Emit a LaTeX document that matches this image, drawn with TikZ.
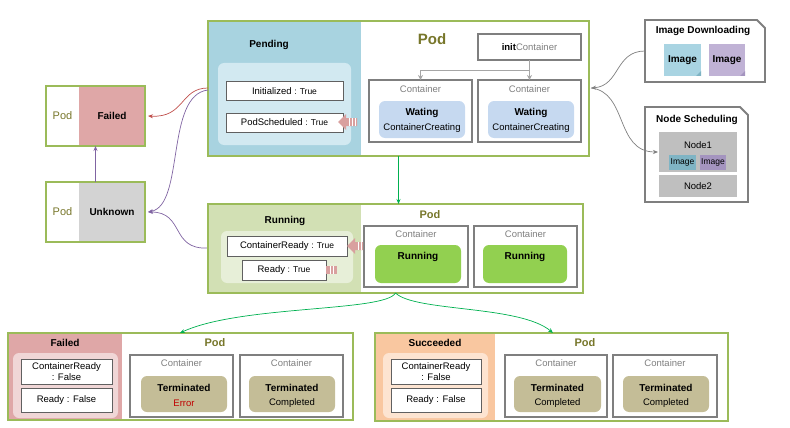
\documentclass[tikz,border=0pt]{standalone}
\usepackage{fontspec}
\setmainfont{Liberation Sans}
\usetikzlibrary{arrows.meta,calc}
\definecolor{podgreen}{HTML}{9BBB59}
\definecolor{podtext}{HTML}{77762A}
\definecolor{pendblue}{HTML}{A8D3E0}
\definecolor{pendlight}{HTML}{D2E9F1}
\definecolor{rungreen}{HTML}{D2E0B4}
\definecolor{runlight}{HTML}{E7EFD8}
\definecolor{failpink}{HTML}{DFA7A7}
\definecolor{faillight}{HTML}{F0D6D6}
\definecolor{succorange}{HTML}{F9C7A0}
\definecolor{succlight}{HTML}{FDE4D1}
\definecolor{contgray}{HTML}{7F7F7F}
\definecolor{waitblue}{HTML}{C6D9F0}
\definecolor{runfill}{HTML}{92D050}
\definecolor{termfill}{HTML}{C4BD97}
\definecolor{errred}{HTML}{C00000}
\definecolor{imgblue}{HTML}{A9D4E2}
\definecolor{imgpurple}{HTML}{C0B2D5}
\definecolor{imgblue2}{HTML}{7FB4C4}
\definecolor{imgpurple2}{HTML}{A494BF}
\definecolor{nodegray}{HTML}{BFBFBF}
\definecolor{unkgray}{HTML}{D3D3D3}
\definecolor{arrred}{HTML}{C0504D}
\definecolor{arrpurple}{HTML}{8064A2}
\definecolor{arrgreen}{HTML}{00B050}
\definecolor{arrgray}{HTML}{A6A6A6}
\definecolor{pinkarr}{HTML}{D9A09F}
\newcommand\bx[6]{\node[#1, inner sep=0pt, outer sep=0pt, minimum width={#4-#2}, minimum height={#5-#3}] (#6) at ({(#2+#4)/2},{(#3+#5)/2}) {};}
\begin{document}
\begin{tikzpicture}[x=1pt,y=-1pt,
  lbl/.style={inner sep=0pt, font=\fontsize{9.5}{11}\selectfont},
  hdr/.style={inner sep=0pt, font=\fontsize{10}{12}\selectfont\bfseries},
  podlbl/.style={inner sep=0pt, text=podtext, font=\fontsize{11}{13}\selectfont\bfseries},
  podborder/.style={draw=podgreen, line width=2.3pt},
  condbox/.style={draw=gray!75!black, fill=white, line width=1pt},
  contbox/.style={draw=contgray, line width=2pt},
  innerround/.style={rounded corners=6pt},
  conn/.style={-{Stealth[length=5pt,width=4pt]}, line width=0.7pt},
  cutbox/.style={draw=contgray, line width=1.8pt, fill=white},
]
\useasboundingbox (0,0) rectangle (790,428);

% ================= Pending pod =================
\fill[pendblue] (208,21) rectangle (361,156);
\bx{podborder}{208}{21}{589}{156}{pending}
\fill[pendlight,innerround] (218,63) rectangle (351,145);
\bx{condbox}{226}{82}{343}{100}{pinit}
\bx{condbox}{226}{113}{343}{132}{psched}
\node[lbl] at (pinit) {Initialized {\fontsize{8.5}{10}\selectfont: True}};
\node[lbl] at (psched) {PodScheduled {\fontsize{8.5}{10}\selectfont: True}};
\node[hdr] at (269,45) {Pending};
\node[podlbl, font=\fontsize{15}{17}\selectfont\bfseries] at (432,39) {Pod};
\bx{contbox, fill=white}{478}{34}{581}{60}{initc}
\node[lbl] at (initc) {\textbf{init}\textcolor{contgray}{Container}};
\bx{contbox}{369}{80}{472}{142}{pc1}
\bx{contbox}{478}{80}{581}{142}{pc2}
\fill[waitblue,innerround] (379,101) rectangle (465,138);
\fill[waitblue,innerround] (488,101) rectangle (574,138);
\node[lbl,text=contgray] at (420.5,89) {Container};
\node[lbl,text=contgray] at (529.5,89) {Container};
\node[hdr] at (422,113) {Wating};
\node[lbl] at (422,128) {ContainerCreating};
\node[hdr] at (531,113) {Wating};
\node[lbl] at (531,128) {ContainerCreating};
\coordinate (splitc) at (529.5,71);
\draw[arrgray, line width=1pt] (initc.south) -- (splitc);
\draw[arrgray, line width=1pt, -{Stealth[length=5pt,width=5pt]}] (splitc) -| (pc1.north);
\draw[arrgray, line width=1pt, -{Stealth[length=5pt,width=5pt]}] (splitc) -- (pc2.north);
% pink arrow
\fill[pinkarr] (338,122) -- (346,114) -- (346,118) -- (357,118) -- (357,126) -- (346,126) -- (346,130) -- cycle;
\foreach \xx in {349,352,355} \draw[white, line width=0.6pt] (\xx,118) -- (\xx,126);

% ================= Image Downloading =================
\draw[cutbox] (645,20) -- (757,20) -- (765,28) -- (765,82) -- (645,82) -- cycle;
\node[inner sep=0pt, outer sep=0pt, minimum width=120pt, minimum height=62pt] (imgdl) at (705,51) {};
\node[hdr] at (703,31) {Image Downloading};
\fill[imgblue] (664,44) rectangle (701,76);
\fill[imgblue2] (701,71) -- (696,76) -- (701,76) -- cycle;
\fill[imgpurple] (709,44) rectangle (745,76);
\fill[imgpurple2] (745,71) -- (740,76) -- (745,76) -- cycle;
\node[hdr] at (682.5,60) {Image};
\node[hdr] at (727,60) {Image};

% ================= Node Scheduling =================
\draw[cutbox] (645,107) -- (740,107) -- (748,115) -- (748,202) -- (645,202) -- cycle;
\node[hdr] at (697,120) {Node Scheduling};
\bx{fill=nodegray}{659}{132}{737}{172}{node1}
\bx{fill=nodegray}{659}{175}{737}{197}{node2}
\node[lbl] at (698,145) {Node1};
\node[lbl] at (node2) {Node2};
\fill[imgblue2] (669,155) rectangle (696,170);
\fill[imgpurple2] (700,155) rectangle (726,170);
\node[lbl, font=\fontsize{8.5}{10}\selectfont] at (682.5,162.5) {Image};
\node[lbl, font=\fontsize{8.5}{10}\selectfont] at (713,162.5) {Image};

\coordinate (pendR) at (591,88);
\coordinate (node1L) at (658,152);
\draw[conn, color=contgray, line width=0.7pt] (imgdl.west) .. controls (615,51) and (620,86) .. (pendR);
\draw[conn, color=contgray, line width=0.7pt] (pendR) .. controls (628,92) and (615,152) .. (node1L);

% ================= Left pods =================
\fill[failpink] (79,86) rectangle (145,146);
\bx{podborder}{46}{86}{145}{146}{podfailed}
\node[podlbl, font=\fontsize{11}{13}\selectfont] at (62.5,116) {Pod};
\node[hdr] at (112,116) {Failed};
\fill[unkgray] (79,182) rectangle (145,242);
\bx{podborder}{46}{182}{145}{242}{podunknown}
\node[podlbl, font=\fontsize{11}{13}\selectfont] at (62.5,212) {Pod};
\node[hdr] at (112,212) {Unknown};

\coordinate (pendL1) at (208,88);
\coordinate (pendL2) at (208,90);
\coordinate (runL) at (208,248);
\coordinate (failR) at (148,116);
\coordinate (unkR) at (148,212);
\draw[conn, arrred] (pendL1) .. controls (180,88) and (185,118) .. (failR);
\draw[conn, arrpurple] (pendL2) .. controls (165,95) and (185,205) .. (unkR);
\draw[conn, arrpurple] (runL) .. controls (170,250) and (185,212) .. (unkR);
\draw[conn, arrpurple] (podunknown.north) -- (podfailed.south);

% ================= Running pod =================
\fill[rungreen] (208,204) rectangle (361,293);
\bx{podborder}{208}{204}{583}{293}{running}
\fill[runlight,innerround] (221,231) rectangle (353,283);
\bx{condbox}{227}{236}{347}{256}{rcr}
\bx{condbox}{242}{260}{326}{280}{rrd}
\node[lbl] at (rcr) {ContainerReady {\fontsize{8.5}{10}\selectfont: True}};
\node[lbl] at (rrd) {Ready {\fontsize{8.5}{10}\selectfont: True}};
\node[hdr] at (285,221) {Running};
\node[podlbl] at (430,215) {Pod};
\bx{contbox}{364}{226}{468}{287}{rc1}
\bx{contbox}{474}{226}{577}{287}{rc2}
\fill[runfill,innerround] (375,245) rectangle (461,283);
\fill[runfill,innerround] (483,245) rectangle (567,283);
\node[lbl,text=contgray] at (416,234) {Container};
\node[lbl,text=contgray] at (525.5,234) {Container};
\node[hdr] at (418,257) {Running};
\node[hdr] at (525,257) {Running};
\fill[pinkarr] (347,246) -- (355,238) -- (355,242) -- (363,242) -- (363,250) -- (355,250) -- (355,254) -- cycle;
\foreach \xx in {358,361} \draw[white, line width=0.6pt] (\xx,242) -- (\xx,250);
\fill[pinkarr] (326,266) rectangle (337,274);
\foreach \xx in {330,333} \draw[white, line width=0.6pt] (\xx,266) -- (\xx,274);

\draw[conn, arrgreen] (pending.south) -- (pending.south |- running.north);

% ================= Bottom Failed pod =================
\fill[failpink] (8,333) rectangle (122,420);
\bx{podborder}{8}{333}{353}{420}{bfailed}
\fill[faillight,innerround] (13,353) rectangle (118,418);
\bx{condbox}{21}{359}{112}{384}{fcr}
\bx{condbox}{21}{388}{112}{412}{frd}
\node[lbl, align=center] at (fcr) {ContainerReady\\: False};
\node[lbl] at (frd) {Ready : False};
\node[hdr] at (65,343) {Failed};
\node[podlbl] at (215,343) {Pod};
\bx{contbox}{130}{355}{233}{417}{fc1}
\bx{contbox}{240}{355}{343}{417}{fc2}
\fill[termfill,innerround] (141,376) rectangle (227,412);
\fill[termfill,innerround] (249,376) rectangle (335,412);
\node[lbl,text=contgray] at (181.5,363) {Container};
\node[lbl,text=contgray] at (291.5,363) {Container};
\node[hdr] at (184,388) {Terminated};
\node[lbl,text=errred] at (184,403) {Error};
\node[hdr] at (292,388) {Terminated};
\node[lbl] at (292,403) {Completed};

% ================= Succeeded pod =================
\fill[succorange] (375,333) rectangle (495,421);
\bx{podborder}{375}{333}{728}{421}{bsucc}
\fill[succlight,innerround] (383,353) rectangle (488,418);
\bx{condbox}{391}{359}{481}{384}{scr}
\bx{condbox}{391}{388}{481}{412}{srd}
\node[lbl, align=center] at (scr) {ContainerReady\\: False};
\node[lbl] at (srd) {Ready : False};
\node[hdr] at (435,343) {Succeeded};
\node[podlbl] at (585,343) {Pod};
\bx{contbox}{505}{355}{607}{417}{sc1}
\bx{contbox}{613}{355}{717}{417}{sc2}
\fill[termfill,innerround] (514,376) rectangle (601,412);
\fill[termfill,innerround] (623,376) rectangle (709,412);
\node[lbl,text=contgray] at (556,363) {Container};
\node[lbl,text=contgray] at (665,363) {Container};
\node[hdr] at (557.5,388) {Terminated};
\node[lbl] at (557.5,403) {Completed};
\node[hdr] at (666,388) {Terminated};
\node[lbl] at (666,403) {Completed};

\coordinate (bfTop) at (180,333);
\coordinate (bsTop) at (553,333);
\draw[conn, arrgreen] (running.south) .. controls (385,312) and (240,305) .. (bfTop);
\draw[conn, arrgreen] (running.south) .. controls (415,312) and (520,305) .. (bsTop);
\end{tikzpicture}
\end{document}
